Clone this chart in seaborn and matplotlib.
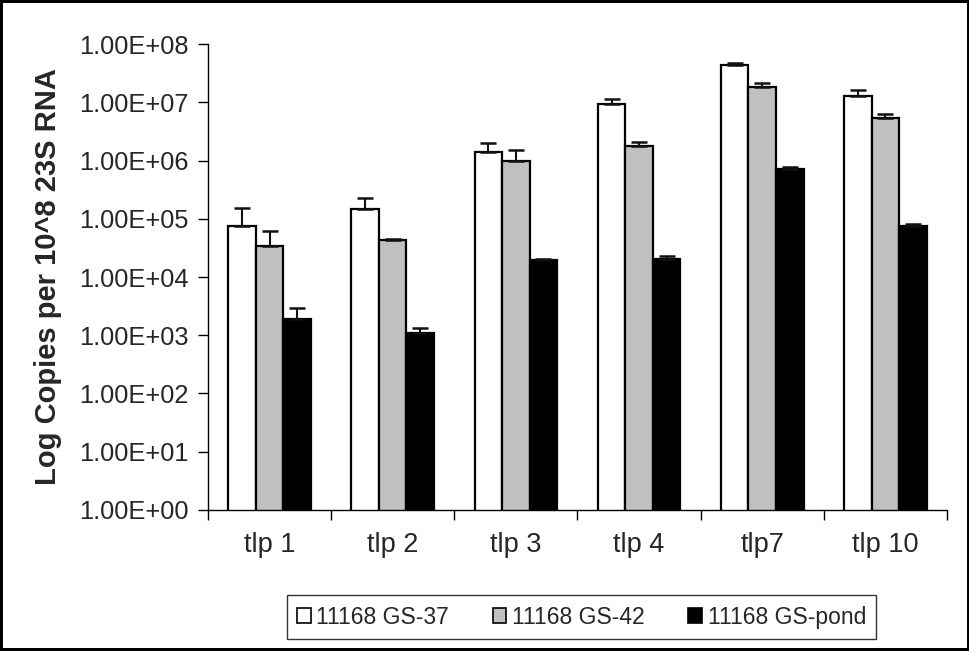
import numpy as np
import pandas as pd
import matplotlib
matplotlib.use("Agg")
import matplotlib.pyplot as plt
from matplotlib.ticker import FuncFormatter, FixedLocator, NullFormatter
import seaborn as sns

# data
genes = ["tlp 1", "tlp 2", "tlp 3", "tlp 4", "tlp7", "tlp 10"]
series = ["11168 GS-37", "11168 GS-42", "11168 GS-pond"]
gs37 = [7.6e4, 1.49e5, 1.4e6, 9.4e6, 4.3e7, 1.3e7]
gs42 = [3.45e4, 4.37e4, 1.0e6, 1.8e6, 1.85e7, 5.4e6]
pond = [1.88e3, 1.08e3, 1.95e4, 2.0e4, 7.07e5, 7.4e4]
gs37_err = [7.9e4, 8.0e4, 6.0e5, 2.1e6, 5.0e6, 3.4e6]
gs42_err = [2.6e4, 2.0e3, 5.3e5, 3.0e5, 3.2e6, 1.0e6]
pond_err = [1.1e3, 2.7e2, 1.0e3, 3.0e3, 6.0e4, 6.0e3]

colors = ["#FFFFFF", "#C0C0C0", "#000000"]

df = pd.DataFrame({
    "gene": genes * 3,
    "strain": [s for s in series for _ in genes],
    "copies": gs37 + gs42 + pond,
    "err": gs37_err + gs42_err + pond_err,
})

sns.set_style("ticks")
plt.rcParams["font.family"] = ["Liberation Sans", "DejaVu Sans"]

fig = plt.figure(figsize=(9.7, 6.51), dpi=100, linewidth=3, edgecolor="black")
ax = fig.add_axes([0.2144, 0.2166, 0.7619, 0.7158])

sns.barplot(data=df, x="gene", y="copies", hue="strain", order=genes,
            hue_order=series, palette=colors, width=0.67, errorbar=None,
            edgecolor="black", linewidth=1.6, saturation=1, ax=ax)

# upper error bars at the bar centres
for patch, (_, row) in zip(ax.patches, df.iterrows()):
    xc = patch.get_x() + patch.get_width() / 2
    ax.errorbar(xc, row["copies"], yerr=[[0], [row["err"]]], fmt="none",
                ecolor="#111111", elinewidth=1.5, capsize=6, capthick=1.8,
                zorder=1)

ax.set_yscale("log")
ax.set_ylim(1, 1e8)
ax.set_xlim(-0.5, len(genes) - 0.5)
ax.yaxis.set_major_locator(FixedLocator([10.0 ** k for k in range(9)]))
ax.yaxis.set_minor_locator(FixedLocator([]))
ax.yaxis.set_major_formatter(FuncFormatter(lambda v, p: f"{v:.2E}"))

ax.xaxis.set_minor_locator(FixedLocator(np.arange(-0.5, len(genes), 1.0)))
ax.xaxis.set_minor_formatter(NullFormatter())
ax.tick_params(axis="x", which="major", length=0, pad=16, labelsize=19.5)
ax.tick_params(axis="x", which="minor", length=7, width=1, color="black")
ax.tick_params(axis="y", length=7, width=1, color="black", pad=7, labelsize=18.3)

for s in ["top", "right"]:
    ax.spines[s].set_visible(False)
for s in ["left", "bottom"]:
    ax.spines[s].set_color("black")
    ax.spines[s].set_linewidth(1)

ax.set_xlabel("")
ax.set_ylabel("Log Copies per 10^8 23S RNA", fontsize=21, fontweight="bold",
              labelpad=12)

ax.legend_.remove()
handles = [plt.Rectangle((0, 0), 1, 1, facecolor=c, edgecolor="black", linewidth=1.2)
           for c in colors]
leg = fig.legend(handles, series, loc="center", bbox_to_anchor=(0.5995, 0.052),
                 ncol=3, frameon=True, fancybox=False, fontsize=16.5,
                 handlelength=0.6, handleheight=0.6, handletextpad=0.25,
                 columnspacing=1.9, borderpad=0.45, borderaxespad=0)
leg.get_frame().set_edgecolor("black")
leg.get_frame().set_linewidth(1)

fig.savefig("out.png", dpi=100, edgecolor=fig.get_edgecolor())
